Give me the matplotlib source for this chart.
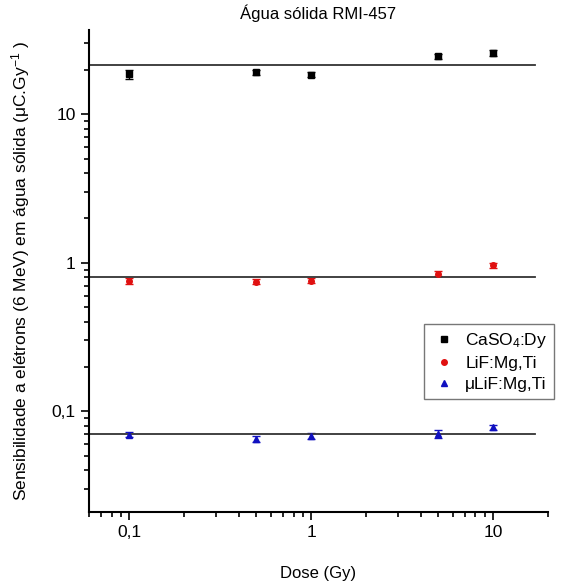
import matplotlib
matplotlib.use("Agg")
import matplotlib.pyplot as plt
from matplotlib.lines import Line2D
from matplotlib.ticker import FixedLocator, FixedFormatter, LogLocator, NullFormatter

plt.rcParams['font.family'] = ['Liberation Sans', 'DejaVu Sans']
plt.rcParams['mathtext.fontset'] = 'custom'
plt.rcParams['mathtext.rm'] = 'Liberation Sans'
plt.rcParams['mathtext.it'] = 'Liberation Sans'

dose = [0.1, 0.5, 1, 5, 10]
caso4 = [18.6, 19.1, 18.4, 24.5, 26.0]
caso4_err = [1.3, 0.7, 0.7, 0.8, 1.2]
lif = [0.753, 0.745, 0.757, 0.843, 0.959]
lif_err = [0.03, 0.03, 0.03, 0.03, 0.035]
ulif = [0.0697, 0.0652, 0.0683, 0.0705, 0.078]
ulif_err = [0.003, 0.003, 0.003, 0.0045, 0.003]
line_x = [0.06, 17]
caso4_mean = 21.5
lif_mean = 0.80
ulif_mean = 0.070

tick_vals = [0.1, 1, 10]
tick_labels = ['0,1', '1', '10']

fig = plt.figure(figsize=(5.67, 5.85), dpi=100)
ax = fig.add_axes([0.157, 0.125, 0.809, 0.824])

series = [
    (caso4, caso4_err, 's', 'black', 4, 'CaSO$_4$:Dy'),
    (lif, lif_err, 'o', '#e01010', 4, 'LiF:Mg,Ti'),
    (ulif, ulif_err, '^', '#1010c0', 5, 'μLiF:Mg,Ti'),
]
handles = []
for vals, err, mk, col, ms, lab in series:
    ax.errorbar(dose, vals, yerr=err, fmt=mk, color=col, ms=ms,
                capsize=3, elinewidth=1, capthick=1)
    handles.append(Line2D([], [], linestyle='none', marker=mk, color=col,
                          ms=ms, label=lab))

for m in [caso4_mean, lif_mean, ulif_mean]:
    ax.plot(line_x, [m, m], color='#333333', lw=1.3)

ax.set_xscale('log')
ax.set_yscale('log')
ax.set_xlim(0.06, 20)
ax.set_ylim(0.021, 37)

for axis in (ax.xaxis, ax.yaxis):
    axis.set_major_locator(FixedLocator(tick_vals))
    axis.set_major_formatter(FixedFormatter(tick_labels))
    axis.set_minor_locator(LogLocator(base=10, subs=range(2, 10)))
    axis.set_minor_formatter(NullFormatter())

ax.tick_params(which='major', direction='out', length=6, width=1.2, labelsize=12.5)
ax.tick_params(which='minor', direction='out', length=3.5, width=1.2)
ax.spines['top'].set_visible(False)
ax.spines['right'].set_visible(False)
ax.spines['left'].set_linewidth(1.5)
ax.spines['bottom'].set_linewidth(1.5)

ax.set_title('Água sólida RMI-457', fontsize=12, pad=8)
ax.set_xlabel('Dose (Gy)', fontsize=12, labelpad=19)
ax.set_ylabel('Sensibilidade a elétrons (6 MeV) em água sólida (μC.Gy$^{-1}$ )',
              fontsize=12.5, labelpad=14)

leg = ax.legend(handles=handles, loc='upper left',
                bbox_to_anchor=(415/567, 1 - 315/585),
                bbox_transform=fig.transFigure, fontsize=12.5, frameon=True,
                fancybox=False, edgecolor='#555555', handletextpad=0.5,
                borderpad=0.4, labelspacing=0.35, handlelength=1.5)

fig.savefig('out.png', dpi=100)
